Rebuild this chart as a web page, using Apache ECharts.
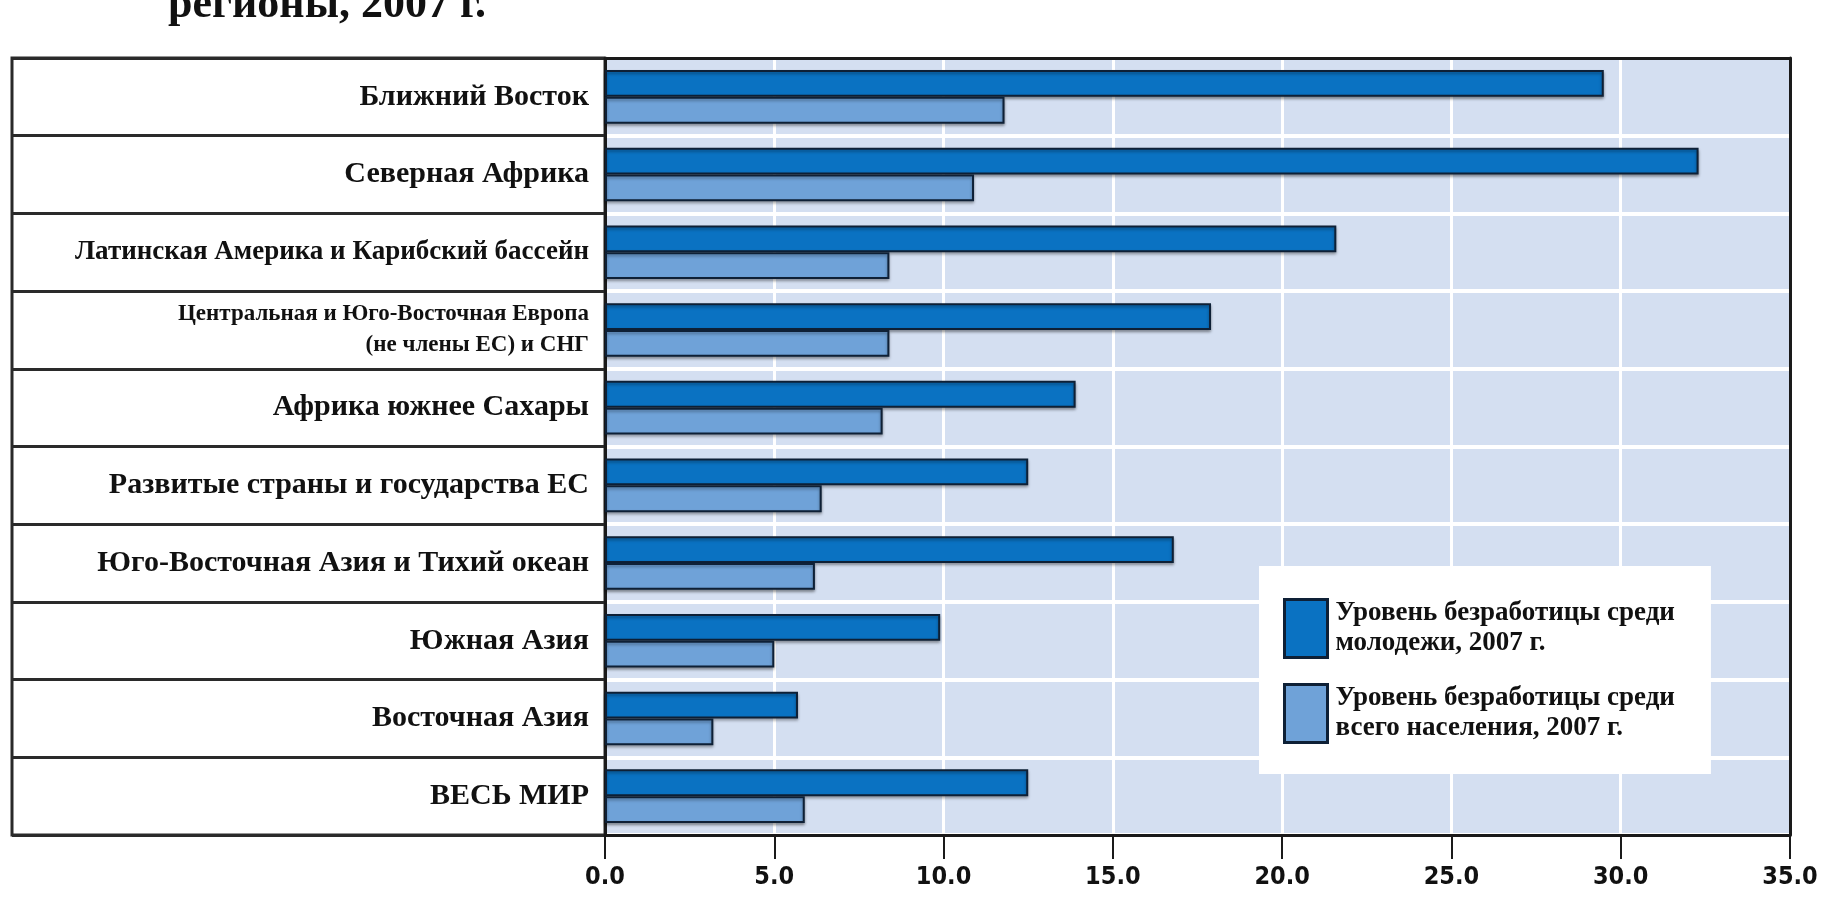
<!DOCTYPE html>
<html><head><meta charset="utf-8">
<script src="https://cdn.jsdelivr.net/npm/echarts@6/dist/echarts.min.js"></script>
<style>html,body{margin:0;padding:0;background:#fff}#c{width:1823px;height:912px}</style>
</head><body><div id="c"></div>
<script>
const categories = [
  'Ближний Восток',
  'Северная Африка',
  'Латинская Америка и Карибский бассейн',
  'Центральная и Юго-Восточная Европа\n(не члены ЕС) и СНГ',
  'Африка южнее Сахары',
  'Развитые страны и государства ЕС',
  'Юго-Восточная Азия и Тихий океан',
  'Южная Азия',
  'Восточная Азия',
  'ВЕСЬ МИР'
];
const youthRate = [29.5, 32.3, 21.6, 17.9, 13.9, 12.5, 16.8, 9.9, 5.7, 12.5];
const totalRate = [11.8, 10.9, 8.4, 8.4, 8.2, 6.4, 6.2, 5.0, 3.2, 5.9];
const seriesNames = [
  'Уровень безработицы среди\nмолодежи, 2007 г.',
  'Уровень безработицы среди\nвсего населения, 2007 г.'
];
const xMin = 0, xMax = 35, xInterval = 5;
const titleText = 'регионы, 2007 г.';

const serif = 'Liberation Serif, Times New Roman, serif';
const narrow = 'Liberation Sans Narrow, DejaVu Sans Condensed, Arial Narrow, sans-serif';
const chart = echarts.init(document.getElementById('c'), null, {renderer: 'canvas'});

const frameLine = {show: true, onZero: false, lineStyle: {color: '#1a1a1a', width: 3}};

const option = {
  animation: false,
  backgroundColor: '#ffffff',
  title: {
    text: titleText,
    left: 168,
    top: -16,
    padding: 0,
    textStyle: {fontFamily: serif, fontWeight: 'bold', fontSize: 44, color: '#111'}
  },
  legend: {
    orient: 'vertical',
    left: 1259,
    top: 566,
    z: 20,
    padding: [32, 36, 30, 24],
    itemWidth: 43,
    itemHeight: 58,
    itemGap: 24,
    backgroundColor: '#ffffff',
    icon: 'rect',
    itemStyle: {borderColor: '#0e2036', borderWidth: 3, shadowBlur: 0, shadowOffsetY: 0, shadowColor: 'rgba(0,0,0,0)'},
    textStyle: {fontFamily: serif, fontWeight: 'bold', fontSize: 27, lineHeight: 30, color: '#111', padding: [0, 0, 0, 3]},
    data: seriesNames
  },
  grid: [
    {left: 605, right: 33, top: 58, bottom: 77, show: true, backgroundColor: '#d4dff1', borderWidth: 0, containLabel: false},
    {left: 12, right: 1218, top: 58, bottom: 77, show: true, backgroundColor: '#ffffff', borderColor: '#2a2a2a', borderWidth: 3, containLabel: false, z: -1}
  ],
  xAxis: [
    {
      type: 'value', gridIndex: 0, min: xMin, max: xMax, interval: xInterval,
      axisLine: frameLine,
      axisTick: {show: true, length: 24, lineStyle: {color: '#1a1a1a', width: 2}},
      axisLabel: {margin: 30, fontFamily: narrow, fontWeight: 'bold', fontSize: 25, color: '#111',
        formatter: v => v.toFixed(1)},
      splitLine: {show: true, lineStyle: {color: '#ffffff', width: 3}}
    },
    {type: 'value', gridIndex: 1, min: 0, max: 1, show: false},
    {
      type: 'value', gridIndex: 0, position: 'top', min: xMin, max: xMax, interval: xInterval, z: 5,
      axisLine: frameLine, axisTick: {show: false}, axisLabel: {show: false}, splitLine: {show: false}
    }
  ],
  yAxis: [
    {
      type: 'category', gridIndex: 0, inverse: true, data: categories,
      axisLine: frameLine,
      axisTick: {show: false},
      splitLine: {show: true, lineStyle: {color: '#ffffff', width: 4}},
      axisLabel: {
        margin: 16, color: '#111', fontFamily: serif, fontWeight: 'bold', fontSize: 30,
        formatter: function (v) {
          if (v.indexOf('\n') >= 0) return v.split('\n').map(s => '{s|' + s + '}').join('\n');
          if (v.length > 33) return '{m|' + v + '}';
          return '{l|' + v + '}';
        },
        rich: {
          l: {fontFamily: serif, fontWeight: 'bold', fontSize: 30, color: '#111', align: 'right'},
          m: {fontFamily: serif, fontWeight: 'bold', fontSize: 27, color: '#111', align: 'right'},
          s: {fontFamily: serif, fontWeight: 'bold', fontSize: 23, lineHeight: 31, color: '#111', align: 'right'}
        }
      }
    },
    {
      type: 'category', gridIndex: 1, inverse: true, data: categories,
      axisLine: {show: false}, axisTick: {show: false}, axisLabel: {show: false},
      splitLine: {show: true, lineStyle: {color: '#2a2a2a', width: 3}}
    },
    {
      type: 'category', gridIndex: 0, position: 'right', inverse: true, data: categories, z: 5,
      axisLine: frameLine, axisTick: {show: false}, axisLabel: {show: false}, splitLine: {show: false}
    }
  ],
  series: [
    {
      type: 'bar', name: seriesNames[0], data: youthRate, xAxisIndex: 0, yAxisIndex: 0,
      barGap: '0%', barCategoryGap: '31%',
      itemStyle: {color: '#0a72c2', borderColor: '#0e2036', borderWidth: 2,
        shadowColor: 'rgba(0,0,0,0.35)', shadowBlur: 3, shadowOffsetY: 2}
    },
    {
      type: 'bar', name: seriesNames[1], data: totalRate, xAxisIndex: 0, yAxisIndex: 0,
      barGap: '0%', barCategoryGap: '31%',
      itemStyle: {color: '#6fa2d8', borderColor: '#0e2036', borderWidth: 2,
        shadowColor: 'rgba(0,0,0,0.35)', shadowBlur: 3, shadowOffsetY: 2}
    }
  ]
};
chart.setOption(option);
</script>
</body></html>
